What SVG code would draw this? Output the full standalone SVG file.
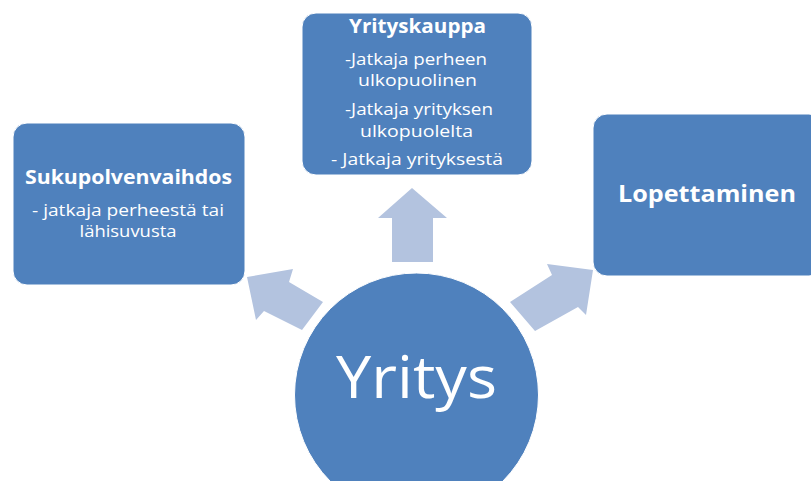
<svg xmlns="http://www.w3.org/2000/svg" width="811" height="481" viewBox="0 0 811 481">
<style>
.box{fill:#4F81BD;stroke:#ffffff;stroke-width:1}
.arrow{fill:#B3C3DF}
text{font-family:"Open Sans","Liberation Sans",sans-serif;fill:#ffffff;text-anchor:middle}
.title{font-weight:bold;font-size:19.5px}
.sub{font-size:15.5px}
.big{font-size:58px}
</style>
<rect width="811" height="481" fill="#ffffff"/>
<g id="connectors">
<polygon class="arrow" points="412,188 447,218 433,218 433,262 392,262 392,218 378,218"/>
<polygon class="arrow" points="247,277 293,269 289,282 323,302 302,330 264,311 256,320"/>
<polygon class="arrow" points="593,270 586,315 578,307 535,331 510,302 552,275 547,264"/>
</g>
<g id="sukupolvenvaihdos">
<rect class="box" x="13" y="123" width="232" height="162" rx="14"/>
<text class="title" x="128.5" y="184" textLength="207" lengthAdjust="spacingAndGlyphs">Sukupolvenvaihdos</text>
<text class="sub" x="128" y="216" textLength="192" lengthAdjust="spacingAndGlyphs">- jatkaja perheestä tai</text>
<text class="sub" x="128" y="237" textLength="97" lengthAdjust="spacingAndGlyphs">lähisuvusta</text>
</g>
<g id="yrityskauppa">
<rect class="box" x="302" y="13" width="230" height="162" rx="14"/>
<text class="title" x="417.5" y="33" textLength="137" lengthAdjust="spacingAndGlyphs">Yrityskauppa</text>
<text class="sub" x="416" y="65" textLength="142" lengthAdjust="spacingAndGlyphs">-Jatkaja perheen</text>
<text class="sub" x="417.5" y="86" textLength="119" lengthAdjust="spacingAndGlyphs">ulkopuolinen</text>
<text class="sub" x="419" y="115" textLength="148" lengthAdjust="spacingAndGlyphs">-Jatkaja yrityksen</text>
<text class="sub" x="416.5" y="137" textLength="113" lengthAdjust="spacingAndGlyphs">ulkopuolelta</text>
<text class="sub" x="417" y="165" textLength="172" lengthAdjust="spacingAndGlyphs">- Jatkaja yrityksestä</text>
</g>
<g id="lopettaminen">
<rect class="box" x="593" y="114" width="230" height="162" rx="14"/>
<text class="title" x="707" y="202" style="font-size:22.5px" textLength="178" lengthAdjust="spacingAndGlyphs">Lopettaminen</text>
</g>
<g id="yritys">
<ellipse class="box" cx="416.5" cy="395" rx="122" ry="122"/>
<text class="big" x="416.5" y="398" textLength="161" lengthAdjust="spacingAndGlyphs">Yritys</text>
</g>
</svg>
